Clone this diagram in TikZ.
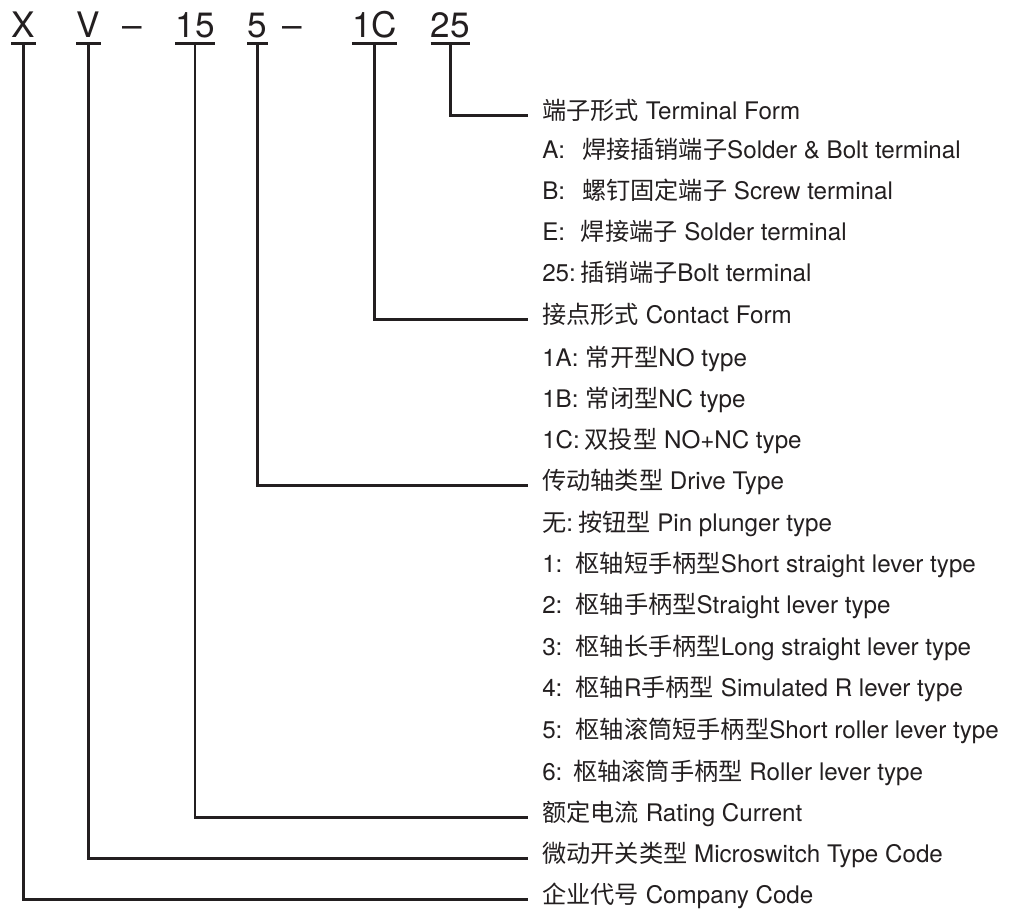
\documentclass[tikz,border=0pt]{standalone}
\usepackage{fontspec}
\setmainfont{TeX Gyre Heros}
\newfontfamily\cjk{Noto Sans CJK SC}
\newcommand{\zh}[1]{{\cjk #1}}
\usepackage{tikz}
\usetikzlibrary{calc}
\usepackage{xcolor}
\definecolor{ink}{HTML}{231F20}

\begin{document}
\begin{tikzpicture}[
  x=0.025cm, y=-0.025cm,
  code/.style={
    anchor=base,
    inner sep=0pt,
    text=ink,
    font=\fontsize{25}{30}\selectfont
  },
  entry/.style={
    anchor=west,
    inner sep=0pt,
    text height=12pt,
    text depth=3.5pt,
    text=ink,
    font=\fontsize{17.2}{20}\selectfont
  },
  rule/.style={
    draw=ink,
    line width=1.7pt
  }
]
\useasboundingbox (0,0) rectangle (1009,912);

% Model code
\node[code] (cX) at (23.5,38) {X};
\node[code] (cV) at (88.5,38) {V};
\node[code] (dashA) at (132.5,38) {--};
\node[code] (c15) at (195,38) {15};
\node[code] (c5) at (257.5,38) {5};
\node[code] (dashB) at (292.5,38) {--};
\node[code] (c1C) at (374.5,38) {1C};
\node[code] (c25) at (450.5,38) {25};

% Terminal form
\node[entry] (terminal) at (542,114)
  {\zh{端子形式} Terminal Form};
\node[entry] (termA) at (542,153)
  {A:\hspace{0.7em}\zh{焊接插销端子}Solder \& Bolt terminal};
\node[entry] (termB) at (542,194)
  {B:\hspace{0.7em}\zh{螺钉固定端子} Screw terminal};
\node[entry] (termE) at (542,235)
  {E:\hspace{0.65em}\zh{焊接端子} Solder terminal};
\node[entry] (term25) at (542,276)
  {25:\hspace{0.2em}\zh{插销端子}Bolt terminal};

% Contact form
\node[entry] (contact) at (542,318)
  {\zh{接点形式} Contact Form};
\node[entry] (contA) at (542,361)
  {1A:\hspace{0.3em}\zh{常开型}NO type};
\node[entry] (contB) at (542,402)
  {1B:\hspace{0.3em}\zh{常闭型}NC type};
\node[entry] (contC) at (542,443)
  {1C:\hspace{0.2em}\zh{双投型} NO+NC type};

% Drive type
\node[entry] (drive) at (542,484)
  {\zh{传动轴类型} Drive Type};
\node[entry] (drive0) at (542,526)
  {\zh{无}:\hspace{0.2em}\zh{按钮型} Pin plunger type};
\node[entry] (drive1) at (542,567)
  {1:\hspace{0.55em}\zh{枢轴短手柄型}Short straight lever type};
\node[entry] (drive2) at (542,608)
  {2:\hspace{0.55em}\zh{枢轴手柄型}Straight lever type};
\node[entry] (drive3) at (542,650)
  {3:\hspace{0.55em}\zh{枢轴长手柄型}Long straight lever type};
\node[entry] (drive4) at (542,691)
  {4:\hspace{0.55em}\zh{枢轴}R\zh{手柄型} Simulated R lever type};
\node[entry] (drive5) at (542,733)
  {5:\hspace{0.55em}\zh{枢轴滚筒短手柄型}Short roller lever type};
\node[entry] (drive6) at (542,775)
  {6:\hspace{0.45em}\zh{枢轴滚筒手柄型} Roller lever type};

% Rating, type code, company
\node[entry] (rating) at (542,816)
  {\zh{额定电流} Rating Current};
\node[entry] (micro) at (542,857)
  {\zh{微动开关类型} Microswitch Type Code};
\node[entry] (company) at (542,898)
  {\zh{企业代号} Company Code};

% Underlines
\foreach \c in {cX,cV,c15,c5,c1C,c25}
  \draw[rule] ([yshift=-4pt]\c.base west) -- ([yshift=-4pt]\c.base east);

% Leaders
\draw[rule] ([yshift=-4pt]c25.base) |- ([xshift=-0.35cm,yshift=-1pt]terminal.west);
\draw[rule] ([yshift=-4pt]c1C.base) |- ([xshift=-0.35cm,yshift=-1pt]contact.west);
\draw[rule] ([yshift=-4pt]c5.base) |- ([xshift=-0.35cm,yshift=-1pt]drive.west);
\draw[rule] ([yshift=-4pt]c15.base) |- ([xshift=-0.35cm,yshift=-1pt]rating.west);
\draw[rule] ([yshift=-4pt]cV.base) |- ([xshift=-0.35cm,yshift=-1pt]micro.west);
\draw[rule] ([yshift=-4pt]cX.base) |- ([xshift=-0.35cm,yshift=-1pt]company.west);
\end{tikzpicture}
\end{document}
